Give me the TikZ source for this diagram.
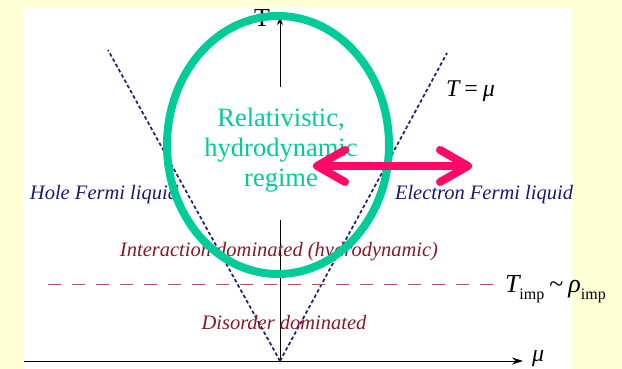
\documentclass[tikz,border=0pt]{standalone}
\usepackage{fontspec}
\setmainfont{Liberation Serif}
\usetikzlibrary{arrows.meta}
\definecolor{bgyellow}{RGB}{255,255,214}
\definecolor{regimegreen}{RGB}{0,204,153}
\definecolor{arrowpink}{RGB}{255,10,102}
\definecolor{fermiblue}{RGB}{25,25,115}
\definecolor{regimered}{RGB}{135,25,40}
\definecolor{linered}{RGB}{185,80,90}
\definecolor{vlineblue}{RGB}{30,30,110}
\tikzset{
  axisline/.style={line width=1pt, black},
  vline/.style={line width=1.7pt, vlineblue, dash pattern=on 3.5pt off 2.5pt},
  implevel/.style={line width=1pt, linered, dash pattern=on 13pt off 11pt},
  ring/.style={line width=8pt, regimegreen},
  pinkarrow/.style={line width=8pt, arrowpink, line cap=round,
    {Straight Barb[round, length=28pt, width=32pt]}-{Straight Barb[round, length=28pt, width=32pt]}},
  lbl/.style={inner sep=0pt, outer sep=0pt},
  fermi/.style={lbl, fermiblue, font=\fontsize{20.5}{24}\selectfont\itshape},
  regimelbl/.style={lbl, regimered, font=\fontsize{20.5}{24}\selectfont\itshape},
  regimetext/.style={lbl, regimegreen, align=center, font=\fontsize{26.5}{30}\selectfont},
  mathlbl/.style={lbl, black}
}
\begin{document}
\begin{tikzpicture}[x=1pt, y=-1pt]
\useasboundingbox (0,0) rectangle (622,369);
\fill[bgyellow] (0,0) rectangle (622,369);
\fill[white] (23,8) rectangle (572,369);

% axes
\coordinate (origin) at (280,361);
\coordinate (xstart) at (24,361);
\coordinate (xend) at (523,361);
\coordinate (ytop) at (280,17);
\draw[axisline, -{Stealth[length=11pt, width=7pt]}] (xstart) -- (xend);
\draw[axisline, -{Stealth[length=8pt, width=6pt]}] (origin) -- (ytop);
\node[mathlbl, anchor=base east, font=\fontsize{26}{26}\selectfont] (Tlabel) at (270,27) {T};
\node[mathlbl, anchor=base west, font=\fontsize{24}{24}\selectfont\itshape] (mulabel) at (532,361) {μ};

% T = mu lines
\coordinate (lefttop) at (108,50);
\coordinate (righttop) at (447,53);
\draw[vline] (origin) -- (lefttop);
\draw[vline] (origin) -- (righttop);
\node[mathlbl, anchor=base west, font=\fontsize{24}{24}\selectfont] (tmu) at (446,97) {\itshape T\hspace{5pt}\upshape=\hspace{5pt}\itshape μ};

% impurity level
\coordinate (impl) at (48,284);
\coordinate (impr) at (494,284);
\draw[implevel] (impl) -- (impr);
\node[mathlbl, anchor=base west, font=\fontsize{26}{26}\selectfont] (timp) at (505,292)
  {\itshape T\raisebox{-0.28em}{\upshape\fontsize{16}{16}\selectfont imp}\upshape\hspace{5pt}\textasciitilde\hspace{5pt}\itshape ρ\raisebox{-0.28em}{\upshape\fontsize{16}{16}\selectfont imp}};

% region labels
\node[fermi, anchor=base west] (hole) at (30,200) {Hole Fermi liquid};
\node[fermi, anchor=base west] (electron) at (395,200) {Electron Fermi liquid};
\node[regimelbl, anchor=base] (interaction) at (279,256) {Interaction dominated (hydrodynamic)};
\node[regimelbl, anchor=base] (disorder) at (284,329) {Disorder dominated};

% relativistic regime
\fill[white] (205,87) rectangle (357,220);
\node[regimetext] (regime) at (281,150) {Relativistic,\\hydrodynamic\\regime};
\draw[ring] (278,145) ellipse [x radius=111, y radius=129];

% double arrow
\coordinate (pl) at (313,166);
\coordinate (pr) at (472,166);
\draw[pinkarrow] (pl) -- (pr);
\end{tikzpicture}
\end{document}
